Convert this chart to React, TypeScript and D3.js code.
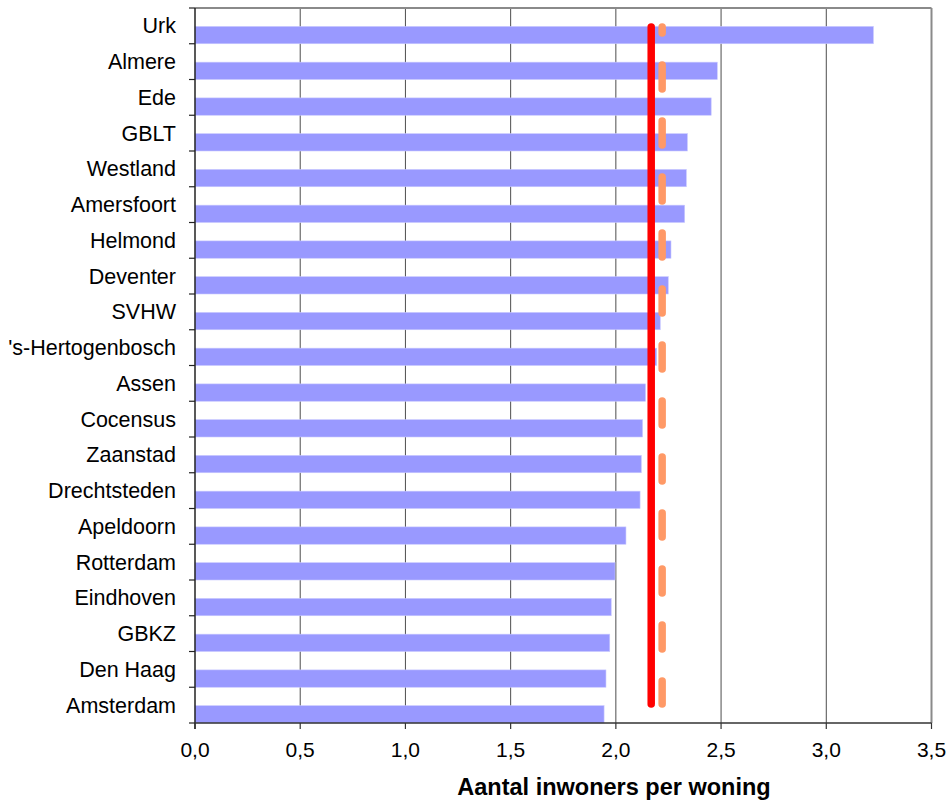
import React from "react";
import * as d3 from "d3";

const categories = [
  "Urk", "Almere", "Ede", "GBLT", "Westland", "Amersfoort", "Helmond", "Deventer",
  "SVHW", "'s-Hertogenbosch", "Assen", "Cocensus", "Zaanstad", "Drechtsteden",
  "Apeldoorn", "Rotterdam", "Eindhoven", "GBKZ", "Den Haag", "Amsterdam",
];
const values = [
  3.224, 2.482, 2.453, 2.34, 2.335, 2.327, 2.262, 2.249, 2.211, 2.194,
  2.141, 2.127, 2.121, 2.115, 2.048, 1.996, 1.978, 1.971, 1.953, 1.944,
];
const averageValue = 2.168;
const referenceValue = 2.22;
const xTicks = [0, 0.5, 1, 1.5, 2, 2.5, 3, 3.5];
const xTitle = "Aantal inwoners per woning";

const W = 952;
const H = 803;
const left = 195;
const right = 931.5;
const top = 8;
const bottom = 723;

export default function App() {
  const x = d3.scaleLinear().domain([0, 3.5]).range([left, right]);
  const y = d3.scaleBand<string>().domain(categories).range([top, bottom]).padding(0);
  const bw = y.bandwidth();
  const fmt = (v: number) => d3.format(".1f")(v).replace(".", ",");

  const lineY1 = (y(categories[0]) as number) + bw * 0.53;
  const lineY2 = (y(categories[categories.length - 1]) as number) + bw * 0.47;
  const font = "Arial, 'Liberation Sans', sans-serif";

  return (
    <svg width={W} height={H} style={{ position: "absolute", left: 0, top: 0, background: "#fff" }}>
      {xTicks.slice(1, -1).map((t) => (
        <line key={"g" + t} x1={x(t)} x2={x(t)} y1={top} y2={bottom} stroke="#4d4d4d" strokeWidth={1} />
      ))}
      <line x1={left} x2={right} y1={top} y2={top} stroke="#8a8a8a" strokeWidth={2} />
      <line x1={right} x2={right} y1={top} y2={bottom} stroke="#8a8a8a" strokeWidth={2} />
      {categories.map((c, i) => (
        <rect
          key={c}
          x={x(0)}
          y={(y(c) as number) + bw * 0.515}
          width={x(values[i]) - x(0)}
          height={bw * 0.485}
          fill="#9999ff"
          stroke="#c8c8ff"
          strokeWidth={0.6}
        />
      ))}
      <line
        x1={x(averageValue)}
        x2={x(averageValue)}
        y1={lineY1}
        y2={lineY2}
        stroke="#ff0000"
        strokeWidth={7.5}
        strokeLinecap="round"
      />
      <line
        x1={x(referenceValue)}
        x2={x(referenceValue)}
        y1={lineY1}
        y2={lineY2}
        stroke="#ff9966"
        strokeWidth={7.5}
        strokeLinecap="round"
        strokeDasharray="24 32"
        strokeDashoffset={18}
      />
      <line x1={left} x2={left} y1={top} y2={bottom + 6} stroke="#222" strokeWidth={1.5} />
      {categories.map((c) => (
        <line key={"lt" + c} x1={left - 6} x2={left} y1={y(c) as number} y2={y(c) as number} stroke="#222" strokeWidth={1.2} />
      ))}
      <line x1={left - 6} x2={left} y1={bottom} y2={bottom} stroke="#222" strokeWidth={1.2} />
      {categories.map((c) => (
        <text
          key={"l" + c}
          x={176}
          y={(y(c) as number) + bw / 2 + 7.6}
          textAnchor="end"
          fontFamily={font}
          fontSize={21.5}
          fill="#000"
        >
          {c}
        </text>
      ))}
      <line x1={left} x2={right} y1={bottom} y2={bottom} stroke="#333" strokeWidth={1.5} />
      {xTicks.map((t) => (
        <g key={"xt" + t}>
          <line x1={x(t)} x2={x(t)} y1={bottom} y2={bottom + 6} stroke="#333" strokeWidth={1.2} />
          <text x={x(t)} y={757} textAnchor="middle" fontFamily={font} fontSize={21} fill="#000">
            {fmt(t)}
          </text>
        </g>
      ))}
      <text x={614} y={795} textAnchor="middle" fontFamily={font} fontSize={23.5} fontWeight="bold" fill="#000">
        {xTitle}
      </text>
    </svg>
  );
}
